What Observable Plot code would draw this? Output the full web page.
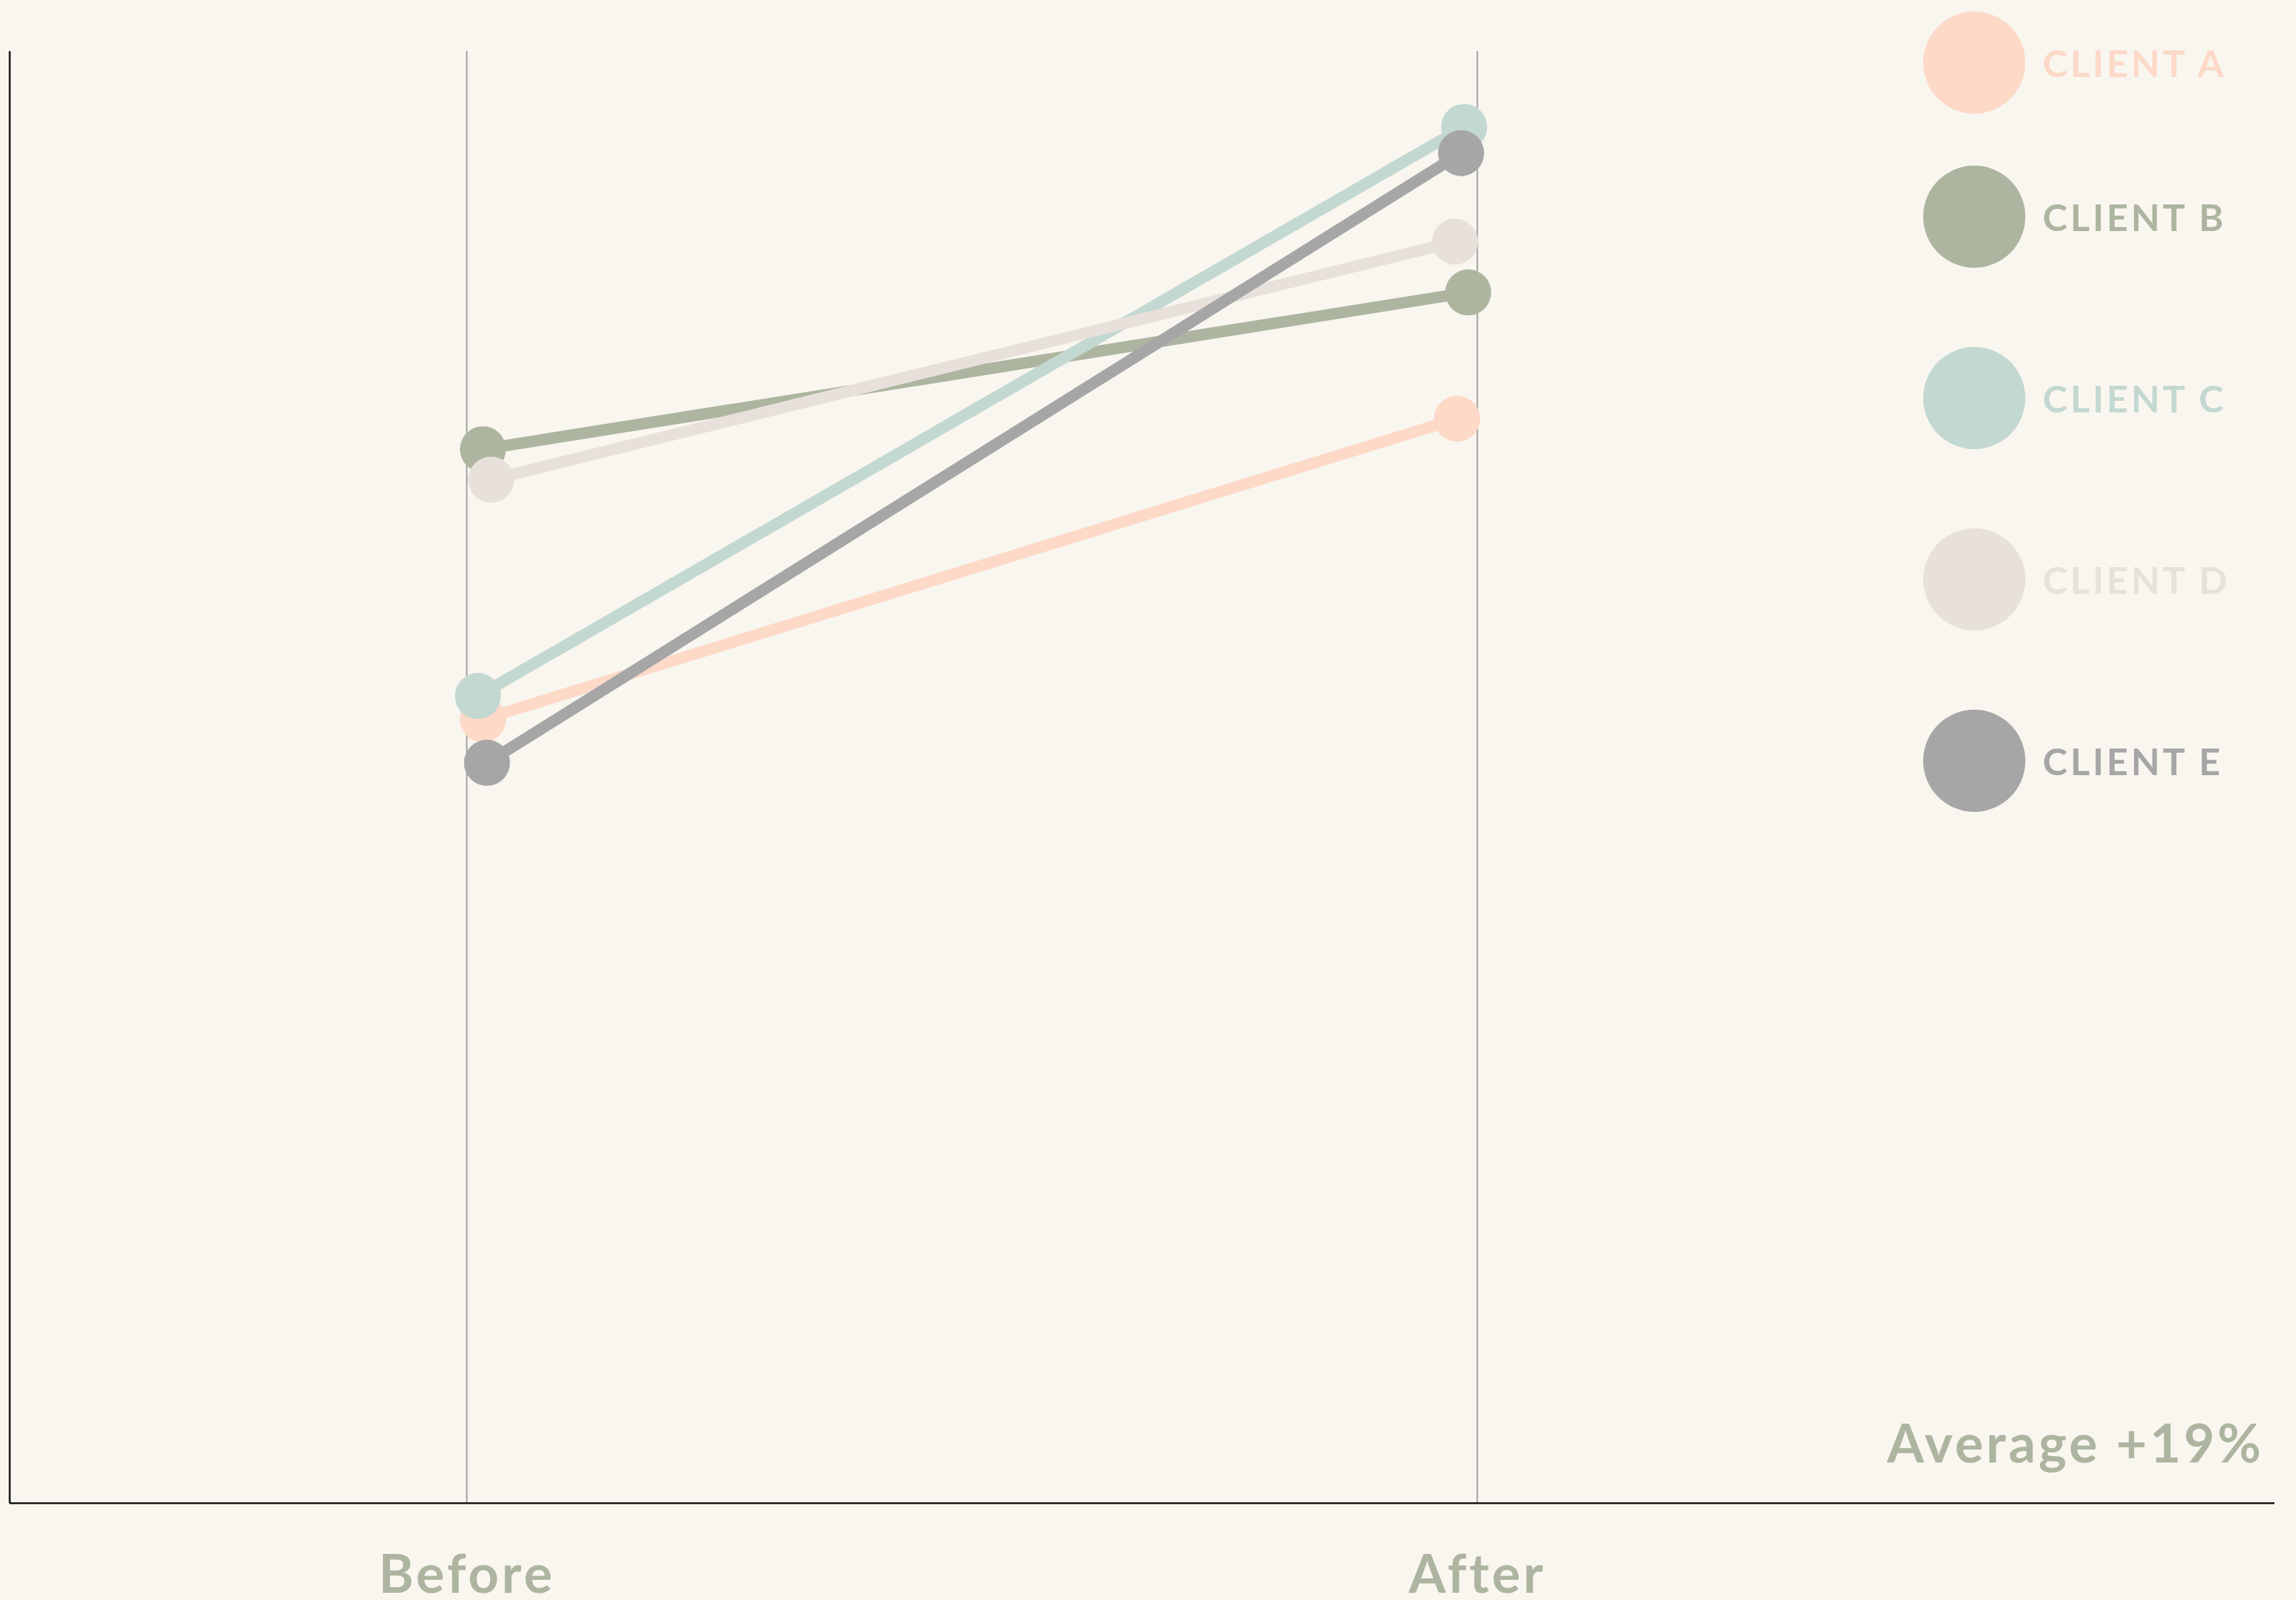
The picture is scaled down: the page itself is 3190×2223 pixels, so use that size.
<!DOCTYPE html>
<html><head><meta charset="utf-8">
<script src="https://cdn.jsdelivr.net/npm/d3@7"></script>
<script src="https://cdn.jsdelivr.net/npm/@observablehq/plot@0.6"></script>
<style>
html,body{margin:0;padding:0;background:#f9f6f0;}
#wrap{position:relative;width:3190px;height:2223px;}
#wrap svg text{letter-spacing:4px;}
#legend{position:absolute;left:2672px;top:16px;font-family:Lato,sans-serif;font-weight:700;}
.item{display:flex;align-items:center;height:142px;margin-bottom:110px;}
.item:first-child{margin-bottom:72px;}
.sw{width:142px;height:142px;border-radius:50%;margin-right:24px;flex:none;}
.lb{font-size:52px;letter-spacing:4px;white-space:nowrap;}
</style></head><body><div id="wrap"></div>
<script>
const clients = ["CLIENT A", "CLIENT B", "CLIENT C", "CLIENT D", "CLIENT E"];
const colors = ["#fdd9c8", "#adb5a0", "#c3d8d1", "#e8e0db", "#a6a6a6"];
const periods = ["Before", "After"];
const beforeValues = [54.0, 72.6, 55.6, 70.5, 51.0];
const afterValues = [74.7, 83.4, 94.8, 86.9, 93.0];
// slight horizontal jitter of each dot around its period (Before = 0, After = 1)
const beforeX = [0.016, 0.016, 0.011, 0.024, 0.020];
const afterX = [0.980, 0.991, 0.987, 0.978, 0.984];
const note = "Average +19%";

const olive = "#adb5a0";
const rows = [];
clients.forEach((c, i) => {
  rows.push({client: c, period: periods[0], x: beforeX[i], value: beforeValues[i]});
  rows.push({client: c, period: periods[1], x: afterX[i], value: afterValues[i]});
});
const xDomain = [-0.4523, 1.7892];

const chart = Plot.plot({
  width: 3190,
  height: 2223,
  marginLeft: 13,
  marginRight: 30,
  marginTop: 71,
  marginBottom: 135,
  style: {background: "#f9f6f0", fontFamily: "Lato, sans-serif"},
  x: {domain: xDomain, axis: null},
  y: {domain: [0, 100], axis: null},
  color: {domain: clients, range: colors},
  marks: [
    Plot.ruleX([0, 1], {stroke: "#a0a0a0", strokeWidth: 2}),
    Plot.ruleY([0], {stroke: "#111", strokeWidth: 2.5}),
    Plot.ruleX([xDomain[0]], {stroke: "#111", strokeWidth: 2.5}),
    Plot.line(rows, {x: "x", y: "value", z: "client", stroke: "client", strokeWidth: 16}),
    Plot.dot(rows, {x: "x", y: "value", fill: "client", r: 32}),
    Plot.text([0, 1], {x: d => d, text: d => periods[d], frameAnchor: "bottom", lineAnchor: "bottom", dy: 124,
      fontSize: 74, fontWeight: 700, fill: olive, fontFamily: "Lato, sans-serif"}),
    Plot.text([note], {text: d => d, frameAnchor: "bottom-right", textAnchor: "end", lineAnchor: "bottom",
      dx: -15, dy: -57, fontSize: 74, fontWeight: 700, fill: olive, fontFamily: "Lato, sans-serif"})
  ]
});
const wrap = document.getElementById("wrap");
wrap.appendChild(chart);
const legend = document.createElement("div");
legend.id = "legend";
clients.forEach((c, i) => {
  const item = document.createElement("div");
  item.className = "item";
  const sw = document.createElement("div");
  sw.className = "sw";
  sw.style.background = colors[i];
  const lb = document.createElement("span");
  lb.className = "lb";
  lb.style.color = colors[i];
  lb.textContent = c;
  item.appendChild(sw);
  item.appendChild(lb);
  legend.appendChild(item);
});
wrap.appendChild(legend);
</script>
</body></html>
